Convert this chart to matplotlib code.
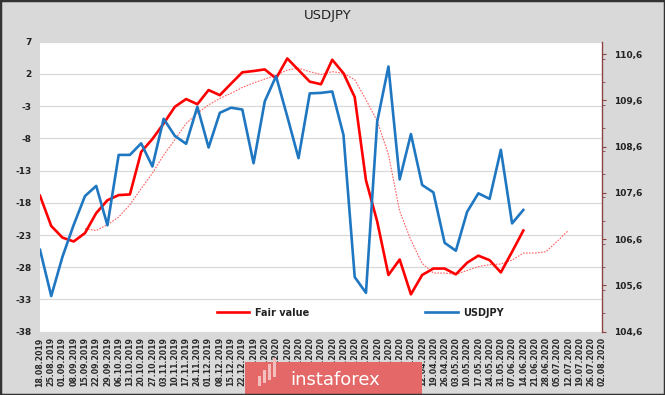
import matplotlib
matplotlib.use("Agg")
import matplotlib.pyplot as plt
import matplotlib.patches as mpatches
from matplotlib.ticker import FixedLocator, MultipleLocator

dates = ["18.08.2019", "25.08.2019", "01.09.2019", "08.09.2019", "15.09.2019", "22.09.2019",
         "29.09.2019", "06.10.2019", "13.10.2019", "20.10.2019", "27.10.2019", "03.11.2019",
         "10.11.2019", "17.11.2019", "24.11.2019", "01.12.2019", "08.12.2019", "15.12.2019",
         "22.12.2019", "29.12.2019", "05.01.2020", "12.01.2020", "19.01.2020", "26.01.2020",
         "02.02.2020", "09.02.2020", "16.02.2020", "23.02.2020", "01.03.2020", "08.03.2020",
         "15.03.2020", "22.03.2020", "29.03.2020", "05.04.2020", "12.04.2020", "19.04.2020",
         "26.04.2020", "03.05.2020", "10.05.2020", "17.05.2020", "24.05.2020", "31.05.2020",
         "07.06.2020", "14.06.2020", "21.06.2020", "28.06.2020", "05.07.2020", "12.07.2020",
         "19.07.2020", "26.07.2020", "02.08.2020"]

fair_value = [-16.9, -21.6, -23.4, -24.0, -22.7, -19.6, -17.6, -16.8, -16.7, -10.1,
              -8.1, -5.7, -3.1, -1.9, -2.7, -0.5, -1.3, 0.5, 2.25, 2.45,
              2.7, 1.3, 4.4, 2.6, 0.8, 0.4, 4.2, 2.1, -1.6, -14.5,
              -20.9, -29.2, -26.8, -32.2, -29.2, -28.2, -28.2, -29.1, -27.3, -26.2,
              -26.9, -28.8, -25.6, -22.3]

usdjpy = [106.37, 105.37, 106.22, 106.91, 107.53, 107.75, 106.90, 108.42, 108.42, 108.67,
          108.17, 109.20, 108.83, 108.66, 109.46, 108.58, 109.33, 109.44, 109.40, 108.24,
          109.58, 110.12, 109.25, 108.35, 109.75, 109.76, 109.79, 108.85, 105.78, 105.44,
          109.14, 110.33, 107.89, 108.87, 107.77, 107.61, 106.52, 106.35, 107.19, 107.59,
          107.47, 108.53, 106.94, 107.23]

trend_start = 4
trend = [-22.0, -22.3, -21.4, -20.2, -18.3, -15.8, -13.4, -10.6, -8.2, -5.7,
         -4.1, -2.8, -1.8, -1.0, -0.1, 0.6, 1.2, 1.8, 2.6, 2.9,
         2.35, 1.9, 2.35, 2.1, 1.1, -2.0, -5.3, -10.5, -19.3, -23.8,
         -27.4, -28.9, -28.9, -29.1, -28.5, -27.9, -27.6, -27.5, -26.9, -25.8,
         -25.8, -25.6, -24.0, -22.3]

left_ticks = [7, 2, -3, -8, -13, -18, -23, -28, -33, -38]
right_ticks = [104.6, 105.6, 106.6, 107.6, 108.6, 109.6, 110.6]

W, H = 665, 395
fig = plt.figure(figsize=(W / 100, H / 100), dpi=100)
fig.patch.set_facecolor("#d9d9d9")

ax = fig.add_axes([40 / W, 1 - 331.7 / H, (602 - 40) / W, (331.7 - 41.7) / H])
ax.set_facecolor("white")
ax2 = ax.twinx()

x = list(range(len(dates)))
l1, = ax.plot(x[:len(fair_value)], fair_value, color="#ff0000", lw=1.9, label="Fair value", zorder=4)
ax.plot(x[trend_start:trend_start + len(trend)], trend, color="#ff6060", lw=0.8,
        ls=(0, (1.5, 1.2)), zorder=3)
l2, = ax2.plot(x[:len(usdjpy)], usdjpy, color="#1f77c2", lw=1.9, label="USDJPY", zorder=4)

ax.set_xlim(0, len(dates) - 1)
ax.set_ylim(-38, 7)
ax2.set_ylim(104.6, 110.866)

ax.set_yticks(left_ticks)
ax.set_yticklabels([str(t) for t in left_ticks], fontsize=6.5, fontweight="bold", color="#222222")
ax.grid(axis="y", color="#d9d9d9", lw=0.9)
ax.set_axisbelow(True)
ax.tick_params(axis="y", length=0, pad=6)

ax.set_xticks(x)
ax.set_xticklabels(dates, rotation=90, fontsize=5.6, fontweight="bold", color="#2a2a2a")
ax.tick_params(axis="x", length=0, pad=4)

ax2.yaxis.set_major_locator(FixedLocator(right_ticks))
ax2.set_yticklabels([f"{t:.1f}".replace(".", ",") for t in right_ticks],
                    fontsize=6.5, fontweight="bold", color="#222222")
ax2.yaxis.set_minor_locator(MultipleLocator(0.5))
ax2.tick_params(axis="y", which="major", length=3, color="#8b4545", pad=6)
ax2.tick_params(axis="y", which="minor", length=2, color="#8b4545")

for a in (ax, ax2):
    for s in ("top", "left", "bottom", "right"):
        a.spines[s].set_visible(False)
ax2.spines["right"].set_visible(True)
ax2.spines["right"].set_color("#8b4545")
ax2.spines["right"].set_linewidth(1.0)

leg = ax2.legend(handles=[l1, l2], loc="center", bbox_to_anchor=(0.57, 0.065), ncol=2,
                 frameon=False, handlelength=3.3, columnspacing=12.0, handletextpad=0.6,
                 prop={"size": 7, "weight": "bold"})
for t in leg.get_texts():
    t.set_color("#222222")

fig.text(0.493, 1 - 16 / H, "USDJPY", ha="center", va="center", fontsize=9.5, color="#222222")

# watermark
fig.patches.append(mpatches.Rectangle((245 / W, 0), (422 - 245) / W, 1 - 362 / H,
                                      transform=fig.transFigure, facecolor="#e46868",
                                      edgecolor="none", zorder=10))
fig.text(290 / W, 1 - 380 / H, "instaforex", ha="left", va="center", fontsize=13,
         color="white", zorder=11)
for i in range(4):
    fig.patches.append(mpatches.Rectangle(((258 + i * 5) / W, 1 - (386 - i * 3) / H), 3 / W, (10 + i * 3) / H,
                                          transform=fig.transFigure, facecolor="#f3c0c0",
                                          edgecolor="none", zorder=11))

# figure frame
fig.patches.append(mpatches.Rectangle((0, 0), 1, 1, transform=fig.transFigure, fill=False,
                                      edgecolor="#333333", lw=2.5, zorder=12))

fig.savefig("out.png", dpi=100, facecolor=fig.get_facecolor())
